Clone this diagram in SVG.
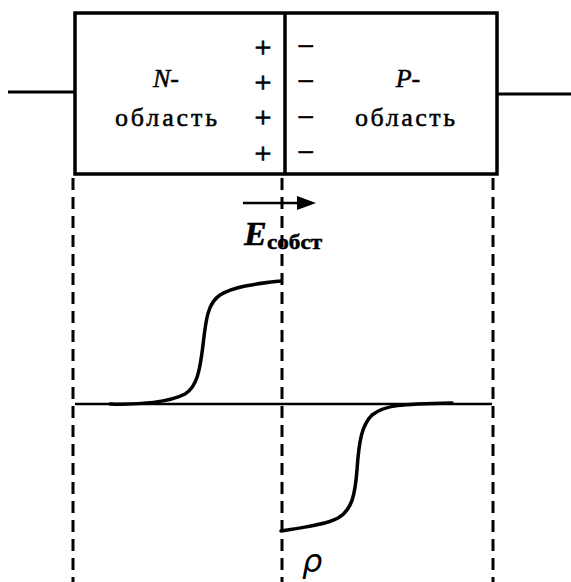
<svg xmlns="http://www.w3.org/2000/svg" width="571" height="582" viewBox="0 0 571 582">
<style>
.box{fill:none;stroke:#000;stroke-width:3.5}
.ln{fill:none;stroke:#000;stroke-width:3}
.dash{fill:none;stroke:#000;stroke-width:3;stroke-dasharray:12 7}
.curve{fill:none;stroke:#000;stroke-width:3.5;stroke-linecap:round}
.t{font-family:"Liberation Serif","DejaVu Serif",serif;fill:#000;stroke:#000;stroke-width:0.5}
.sign{font-family:"Liberation Serif","DejaVu Serif",serif;font-size:30px;text-anchor:middle;fill:#000;stroke:#000;stroke-width:0.8}
</style>
<rect width="571" height="582" fill="#fff"/>
<g id="diode">
<rect class="box" x="75" y="13" width="422" height="161"/>
<line class="box" x1="285" y1="13" x2="285" y2="174"/>
<line class="ln" x1="8" y1="92" x2="75" y2="92"/>
<line class="ln" x1="497" y1="94" x2="571" y2="94"/>
</g>
<g id="charges">
<text class="sign" x="263" y="57">+</text>
<text class="sign" x="263" y="92">+</text>
<text class="sign" x="263" y="127">+</text>
<text class="sign" x="263" y="163">+</text>
<text class="sign" x="306" y="56">−</text>
<text class="sign" x="306" y="91">−</text>
<text class="sign" x="306" y="127">−</text>
<text class="sign" x="306" y="162">−</text>
</g>
<g id="n-region">
<text class="t" x="166" y="87" font-size="26" text-anchor="middle"><tspan font-style="italic">N</tspan>-</text>
<text class="t" x="115" y="126" font-size="26" textLength="102" lengthAdjust="spacing">область</text>
</g>
<g id="p-region">
<text class="t" x="408" y="87" font-size="26" text-anchor="middle"><tspan font-style="italic">P</tspan>-</text>
<text class="t" x="355" y="126" font-size="26" textLength="100" lengthAdjust="spacing">область</text>
</g>
<g id="connectors">
<line class="dash" x1="73" y1="178" x2="73" y2="582"/>
<line class="dash" x1="282" y1="178" x2="282" y2="582"/>
<line class="dash" x1="493" y1="178" x2="493" y2="582"/>
<line x1="243" y1="203" x2="300" y2="203" stroke="#000" stroke-width="2.5"/>
<polygon points="297,196 316,203 297,210" fill="#000"/>
</g>
<g id="field-label">
<text class="t" x="244" y="245" font-size="34" font-style="italic" font-weight="bold">E</text>
<text class="t" x="267" y="249" font-size="20" font-weight="bold" textLength="55" lengthAdjust="spacingAndGlyphs">собст</text>
</g>
<g id="plot">
<line x1="75" y1="404" x2="492" y2="404" stroke="#000" stroke-width="2.5"/>
<path class="curve" d="M110,404 C140,405 170,402 185,394 C197,387 200,370 203,345 C206,318 208,303 220,295 C235,286 255,284 281,281"/>
<path class="curve" d="M281,531 C300,528 325,525 338,518 C352,510 355,495 357,470 C359,440 362,425 372,415 C385,405 400,404 452,403"/>
<text x="302" y="572" font-family="DejaVu Sans,sans-serif" font-size="32" font-style="italic" fill="#000">ρ</text>
</g>
</svg>
